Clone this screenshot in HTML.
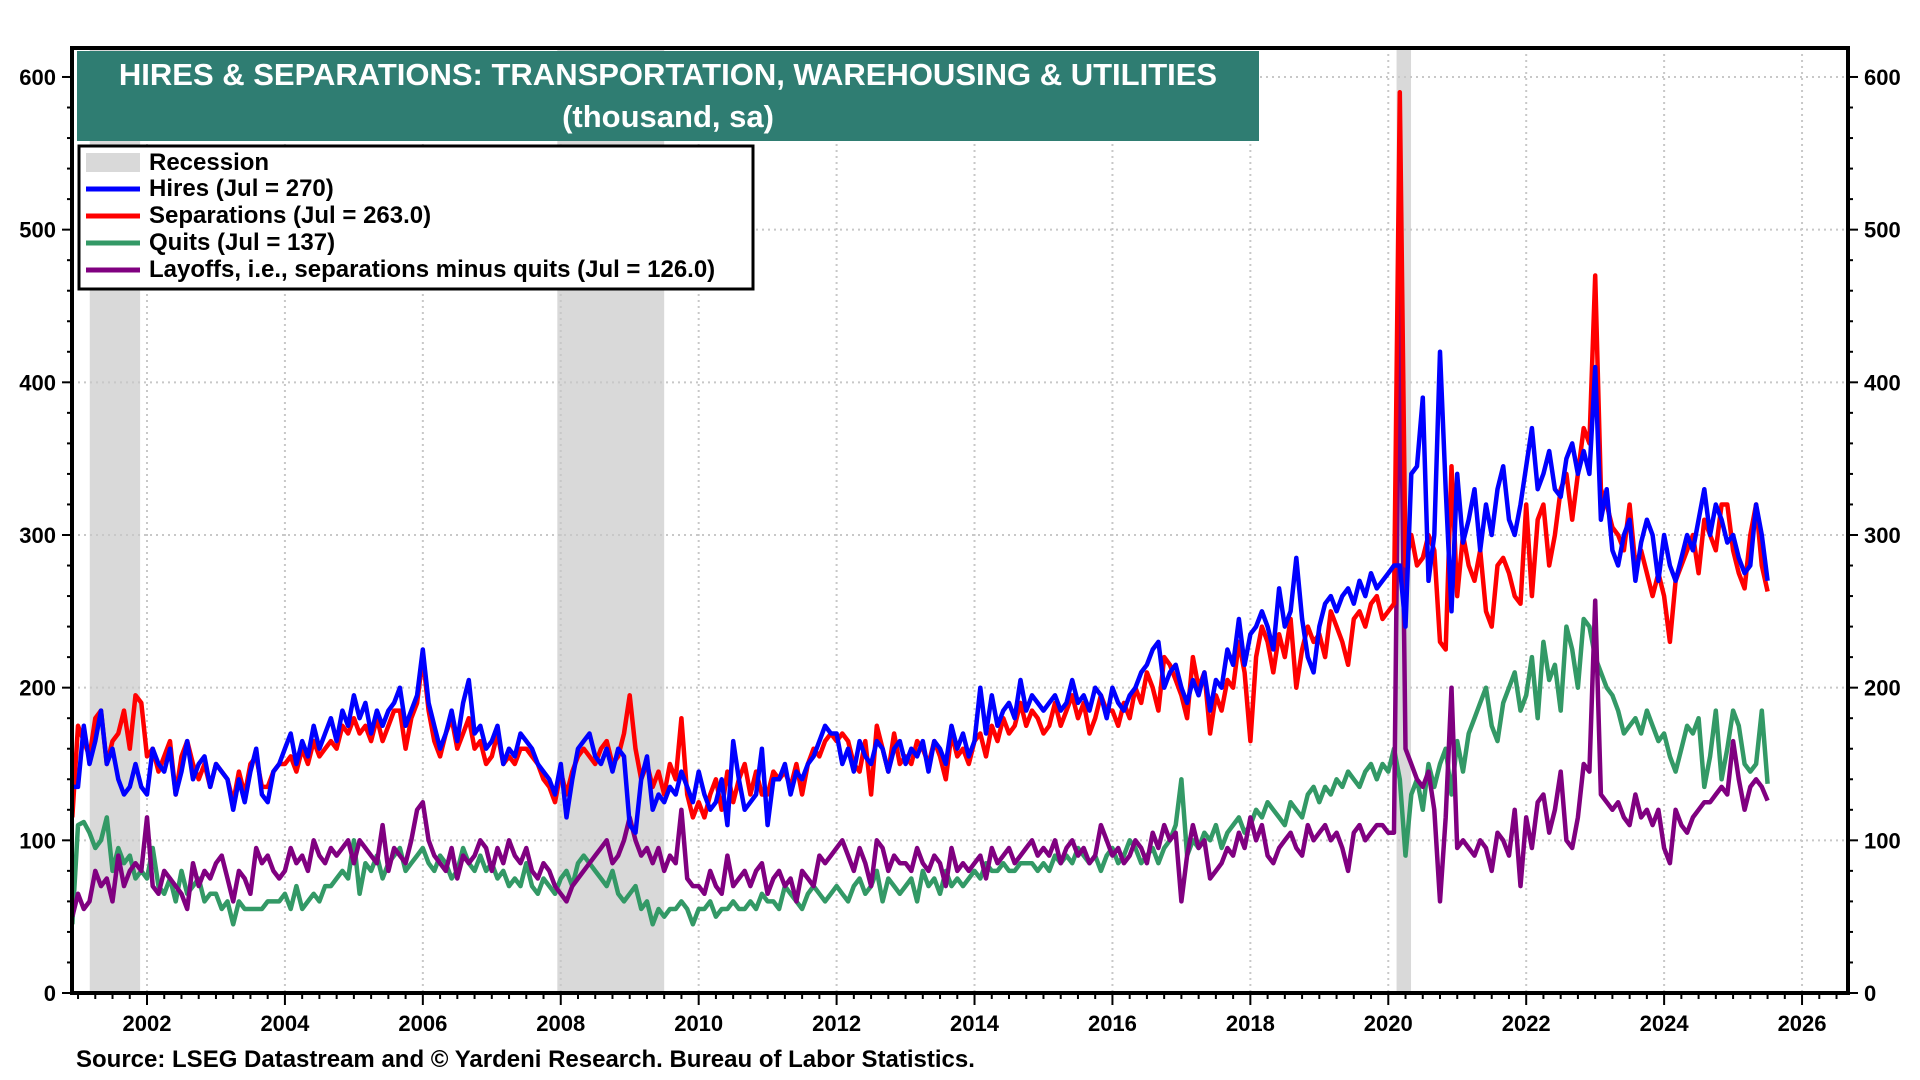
<!DOCTYPE html>
<html><head><meta charset="utf-8"><style>
html,body{margin:0;padding:0;background:#fff;}
svg{display:block;font-family:"Liberation Sans",Arial,sans-serif;font-weight:bold;}
</style></head><body>
<svg id="chart" width="1920" height="1080" viewBox="0 0 1920 1080">
<g id="bg"></g><g id="grid"></g><g id="series"></g><g id="axes"></g>
<rect x="77" y="51" width="1182" height="90" fill="#2f7d72"/>
<text x="668" y="85" fill="#fff" font-size="31" text-anchor="middle">HIRES &amp; SEPARATIONS: TRANSPORTATION, WAREHOUSING &amp; UTILITIES</text>
<text x="668" y="127" fill="#fff" font-size="31" text-anchor="middle">(thousand, sa)</text>
<g>
<rect x="79" y="146" width="674" height="143" fill="#fff" stroke="#000" stroke-width="3"/>
<rect x="86" y="153" width="54" height="19" fill="#d9d9d9"/>
<text x="149" y="170" font-size="24">Recession</text>
<line x1="86" y1="189" x2="140" y2="189" stroke="#0000ff" stroke-width="5"/>
<text x="149" y="196" font-size="24">Hires (Jul = 270)</text>
<line x1="86" y1="216" x2="140" y2="216" stroke="#ff0000" stroke-width="5"/>
<text x="149" y="223" font-size="24">Separations (Jul = 263.0)</text>
<line x1="86" y1="243" x2="140" y2="243" stroke="#339966" stroke-width="5"/>
<text x="149" y="250" font-size="24">Quits (Jul = 137)</text>
<line x1="86" y1="270" x2="140" y2="270" stroke="#800080" stroke-width="5"/>
<text x="149" y="277" font-size="24">Layoffs, i.e., separations minus quits (Jul = 126.0)</text>
</g>
<text x="76" y="1067" font-size="24">Source: LSEG Datastream and © Yardeni Research. Bureau of Labor Statistics.</text>
</svg>
<script>
const startYear = 2000 + 11/12;
const recessions = [[2001.17, 2001.9], [2007.95, 2009.5], [2020.12, 2020.33]];
const xTickYears = [2002,2004,2006,2008,2010,2012,2014,2016,2018,2020,2022,2024,2026];
const yTicks = [0,100,200,300,400,500,600];
const hires = [135,
135,175,150,165,185,150,160,140,130,135,150,135,
130,160,150,145,160,130,145,165,140,150,155,135,
150,145,140,120,140,125,145,160,130,125,145,150,
160,170,150,165,155,175,160,170,180,165,185,175,
195,180,190,170,185,175,185,190,200,175,185,195,
225,190,175,160,170,185,165,190,205,170,175,160,
165,175,150,160,155,170,165,160,150,145,140,130,
150,115,140,160,165,170,155,150,160,145,160,155,
110,105,140,155,120,130,125,135,130,145,135,125,
145,130,120,125,140,110,165,140,120,125,130,160,
110,140,140,150,130,145,140,150,155,165,175,170,
170,150,160,145,165,155,150,165,160,145,160,165,
150,160,155,165,145,165,160,150,175,160,170,155,
165,200,170,195,175,185,190,180,205,185,195,190,
185,190,195,185,190,205,190,195,185,200,195,180,
200,190,185,195,200,210,215,225,230,200,210,215,
200,190,205,195,210,185,205,200,225,215,245,215,
235,240,250,240,225,265,240,250,285,245,220,210,
240,255,260,250,260,265,255,270,260,275,265,270,
275,280,280,240,340,345,390,270,300,420,330,250,
340,295,310,330,290,320,300,330,345,310,300,320,
345,370,330,340,355,330,325,350,360,340,355,340,
410,310,330,290,280,300,310,270,295,310,300,270,
300,280,270,285,300,290,310,330,300,320,310,295,
300,285,275,280,320,300,270];
const separations = [115,
175,165,155,180,185,150,165,170,185,160,195,190,
155,160,145,155,165,130,155,165,150,140,150,135,
150,145,140,125,145,130,150,155,135,135,145,150,
150,155,145,160,150,165,155,160,165,160,175,170,
180,170,175,165,180,165,175,185,185,160,180,190,
220,185,165,155,170,180,160,170,180,160,165,150,
155,170,150,155,150,160,160,155,150,140,135,125,
145,130,145,155,160,155,150,160,165,150,155,170,
195,160,140,150,135,145,130,150,140,180,130,115,
125,115,130,140,120,145,125,140,150,130,145,130,
130,145,140,145,135,150,130,150,160,155,165,170,
165,170,165,150,145,165,130,175,160,145,170,150,
155,150,165,160,150,165,155,140,170,155,160,150,
165,170,155,175,165,180,170,175,190,175,185,180,
170,175,190,175,185,195,180,190,170,180,195,185,
185,175,190,180,200,190,210,200,185,220,215,205,
195,180,220,200,210,170,195,185,205,200,230,210,
165,220,240,230,210,235,220,245,200,225,240,230,
235,220,250,240,230,215,245,250,240,255,260,245,
250,255,590,280,300,280,285,300,290,230,225,345,
260,300,280,270,290,250,240,280,285,275,260,255,
320,260,310,320,280,300,330,340,310,340,370,360,
470,330,320,305,300,290,320,280,290,275,260,275,
260,230,270,280,290,300,275,310,300,290,320,320,
290,275,265,300,320,280,263];
const quits = [45,
110,112,105,95,100,115,80,95,85,90,75,80,
75,95,70,65,75,60,80,65,70,75,60,65,
65,55,60,45,60,55,55,55,55,60,60,60,
65,55,70,55,60,65,60,70,70,75,80,75,
100,65,85,80,90,75,85,90,95,80,85,90,
95,85,80,90,85,75,80,95,85,80,90,80,
85,75,80,70,75,70,85,70,65,75,70,65,
75,80,70,85,90,85,80,75,70,80,65,60,
65,70,55,60,45,55,50,55,55,60,55,45,
55,55,60,50,55,55,60,55,55,60,55,65,
60,60,55,70,65,60,55,65,70,65,60,65,
70,65,60,70,75,65,70,80,60,75,70,65,
70,75,60,80,70,75,65,80,70,75,70,75,
80,75,85,80,80,85,80,80,85,85,85,80,
85,80,90,85,90,85,95,90,85,90,80,90,
95,85,90,100,95,85,90,95,85,95,100,110,
140,90,100,95,105,100,110,95,105,110,115,105,
110,120,115,125,120,115,110,125,120,115,130,135,
125,135,130,140,135,145,140,135,145,150,140,150,
145,160,140,90,130,140,120,150,135,150,160,130,
165,145,170,180,190,200,175,165,190,200,210,185,
195,220,180,230,205,215,185,240,225,200,245,240,
220,210,200,195,185,170,175,180,170,185,175,165,
170,155,145,160,175,170,180,135,155,185,140,160,
185,175,150,145,150,185,137];
const layoffs = [50,
65,55,60,80,70,75,60,90,70,80,85,80,
115,70,65,80,75,70,65,55,85,70,80,75,
85,90,75,60,80,75,65,95,85,90,80,75,
80,95,85,90,80,100,90,85,95,90,95,100,
85,100,95,90,85,110,80,95,90,85,100,120,
125,100,90,85,80,95,75,90,85,90,100,95,
80,95,85,100,90,85,95,80,75,85,80,70,
65,60,70,75,80,85,90,95,100,85,90,100,
115,100,90,95,85,95,80,90,85,120,75,70,
70,65,80,70,65,90,70,75,80,70,80,85,
65,75,80,70,75,60,80,75,70,90,85,90,
95,100,90,80,95,85,70,100,95,80,90,85,
85,80,95,85,80,90,85,70,95,80,85,80,
85,90,75,95,85,90,95,85,90,95,100,90,
95,90,100,85,95,100,90,95,85,90,110,100,
90,95,85,90,100,95,85,105,95,110,100,105,
60,90,110,95,100,75,80,85,95,90,105,95,
115,100,110,90,85,95,100,105,95,90,110,100,
105,110,100,105,95,80,105,110,100,105,110,110,
105,105,465,160,150,140,135,145,120,60,115,200,
95,100,95,90,100,95,80,105,100,90,120,70,
115,95,125,130,105,120,145,100,95,115,150,145,
257,130,125,120,125,115,110,130,115,120,110,120,
95,85,120,110,105,115,120,125,125,130,135,130,
165,140,120,135,140,135,126];

const NS = "http://www.w3.org/2000/svg";
const L = 72, R = 1848, T = 48, B = 993;
function X(t){ return 147 + (t - 2002) * 68.96; }
function Y(v){ return 993 - v * 1.5267; }
function mk(tag, attrs, parent){
  const e = document.createElementNS(NS, tag);
  for (const k in attrs) e.setAttribute(k, attrs[k]);
  document.getElementById(parent).appendChild(e);
  return e;
}
recessions.forEach(r => {
  const e = mk('rect', {x: X(r[0]), y: T, width: X(r[1]) - X(r[0]), height: B - T, fill: '#d9d9d9'}, 'bg');
  
  
});
xTickYears.forEach(yr => {
  const e = mk('line', {x1: X(yr), x2: X(yr), y1: T, y2: B, stroke: '#c8c8c8', 'stroke-width': 2, 'stroke-dasharray': '2,4'}, 'grid');
  
  
});
yTicks.forEach(v => {
  if (v === 0) return;
  const e = mk('line', {x1: L, x2: R, y1: Y(v), y2: Y(v), stroke: '#c8c8c8', 'stroke-width': 2, 'stroke-dasharray': '2,4'}, 'grid');
  
  
});
function drawSeries(arr, color, name){
  const pts = arr.map((v, i) => X(startYear + i/12).toFixed(1) + ',' + Y(v).toFixed(1)).join(' ');
  const e = mk('polyline', {points: pts, fill: 'none', stroke: color, 'stroke-width': 4.5, 'stroke-linejoin': 'round'}, 'series');
  
  
}
drawSeries(quits, '#339966', 'quits-line');
drawSeries(layoffs, '#800080', 'layoffs-line');
drawSeries(separations, '#ff0000', 'separations-line');
drawSeries(hires, '#0000ff', 'hires-line');
const frame = mk('rect', {x: L, y: T, width: R - L, height: B - T, fill: 'none', stroke: '#000', 'stroke-width': 4}, 'axes');


for (let v = 0; v <= 600; v += 20) {
  const big = v % 100 === 0;
  mk('line', {x1: L - (big ? 10 : 5), x2: L, y1: Y(v), y2: Y(v), stroke: '#000', 'stroke-width': 2}, 'axes');
  mk('line', {x1: R, x2: R + (big ? 10 : 5), y1: Y(v), y2: Y(v), stroke: '#000', 'stroke-width': 2}, 'axes');
}
yTicks.forEach(v => {
  const a = mk('text', {x: L - 16, y: Y(v) + 8, 'font-size': 22, 'text-anchor': 'end'}, 'axes');
  a.textContent = v;
  
  
  const b = mk('text', {x: R + 16, y: Y(v) + 8, 'font-size': 22, 'text-anchor': 'start'}, 'axes');
  b.textContent = v;
  
  
});
for (let q = 2001; q <= 2026.6; q += 0.25) {
  const big = Math.abs(q - Math.round(q)) < 1e-6 && Math.round(q) % 2 === 0;
  mk('line', {x1: X(q), x2: X(q), y1: B, y2: B + (big ? 12 : 6), stroke: '#000', 'stroke-width': 2}, 'axes');
}
xTickYears.forEach(yr => {
  const t = mk('text', {x: X(yr), y: 1031, 'font-size': 22, 'text-anchor': 'middle'}, 'axes');
  t.textContent = yr;
  
  
});
</script>
</body></html>
